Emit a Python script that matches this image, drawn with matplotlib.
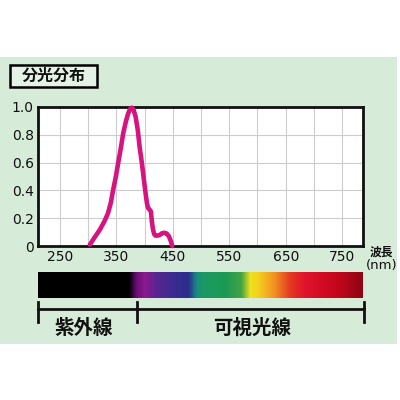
import numpy as np
import matplotlib
matplotlib.use("Agg")
import matplotlib.pyplot as plt
from matplotlib.colors import LinearSegmentedColormap
from matplotlib.patches import Rectangle

plt.rcParams['font.family'] = ['Noto Sans CJK JP', 'DejaVu Sans']

# data
wavelength = [303, 311, 321, 329, 335, 340, 344, 349, 353, 358, 362, 367, 371, 374, 377, 380, 384, 388,
              391, 395, 398, 401, 404, 406, 408, 411, 413, 415, 417, 419, 423, 427, 431, 435, 439, 443, 446, 449]
intensity = [0.01, 0.06, 0.12, 0.18, 0.235, 0.31, 0.40, 0.50, 0.595, 0.71, 0.81, 0.90, 0.955, 0.985, 0.995,
             0.985, 0.93, 0.83, 0.715, 0.60, 0.50, 0.40, 0.31, 0.275, 0.265, 0.25, 0.17, 0.115, 0.085, 0.075,
             0.075, 0.08, 0.092, 0.095, 0.09, 0.07, 0.04, 0.0]
x_ticks = [250, 350, 450, 550, 650, 750]
y_ticks = [0, 0.2, 0.4, 0.6, 0.8, 1.0]
y_labels = ["0", "0.2", "0.4", "0.6", "0.8", "1.0"]
spectrum_nm = [211, 372, 385, 400, 420, 450, 478, 492, 505, 545, 572, 588, 602, 630, 660, 685, 740, 787]
spectrum_colors = ["#000000", "#000000", "#6a0f75", "#8c1a8e", "#5a2592", "#3a2c90", "#2a2f8c",
                   "#1a8a82", "#1a9a62", "#1c9a54", "#45a445", "#ece31e", "#f4cf1e", "#f29422",
                   "#e23722", "#e0132c", "#c8061e", "#8e0612"]
xmin, xmax = 211, 787

W = H = 400
fig = plt.figure(figsize=(4, 4), dpi=100)
fig.patch.set_facecolor("white")

# background overlay in pixel coords
bg = fig.add_axes([0, 0, 1, 1], zorder=0)
bg.set_xlim(0, W)
bg.set_ylim(H, 0)
bg.axis("off")
bg.add_patch(Rectangle((0, 56.5), 397, 287, facecolor="#d6ebd8", edgecolor="none"))
bg.add_patch(Rectangle((10, 65), 87, 22, facecolor="#e4f2e6", edgecolor="black", linewidth=1.8))
bg.text(53.5, 76, "分光分布", ha="center", va="center", fontsize=11.5, fontweight="bold", color="#111111")
bg.text(381.5, 252, "波長", ha="center", va="center", fontsize=8.5, fontweight="bold", color="#111111")
bg.text(381.5, 266, "(nm)", ha="center", va="center", fontsize=9.5, color="#111111",
        family=["DejaVu Sans"])
# bracket
bg.plot([38, 364], [309, 309], color="#111111", lw=2)
for xx in (38, 137, 364):
    bg.plot([xx, xx], [302, 322], color="#111111", lw=2)
bg.text(84, 328, "紫外線", ha="center", va="center", fontsize=14, fontweight="bold", color="#111111")
bg.text(252, 328, "可視光線", ha="center", va="center", fontsize=14, fontweight="bold", color="#111111")

# main chart
ax = fig.add_axes([38 / W, 1 - 246 / H, (363 - 38) / W, (246 - 107) / H], zorder=2)
ax.set_facecolor("white")
ax.plot(wavelength, intensity, color="#d6137f", lw=3.3, solid_capstyle="round", solid_joinstyle="round",
        zorder=3, clip_on=False)
ax.set_xlim(xmin, xmax)
ax.set_ylim(0, 1.0)
ax.set_xticks(x_ticks)
ax.set_xticks(np.arange(250, 800, 50), minor=True)
ax.set_yticks(y_ticks)
ax.set_yticklabels(y_labels)
ax.grid(True, which="both", axis="x", color="#cccccc", lw=0.8)
ax.grid(True, which="major", axis="y", color="#cccccc", lw=0.8)
ax.tick_params(which="both", length=0, labelsize=10, pad=3, colors="#111111")
for lbl in ax.get_xticklabels() + ax.get_yticklabels():
    lbl.set_family(["DejaVu Sans"])
for s in ax.spines.values():
    s.set_linewidth(2)
    s.set_color("#111111")

# spectrum bar
sp = fig.add_axes([38 / W, 1 - 298 / H, (363 - 38) / W, 26 / H], zorder=2)
stops = [(n - xmin) / (xmax - xmin) for n in spectrum_nm]
cmap = LinearSegmentedColormap.from_list("spec", list(zip(stops, spectrum_colors)))
grad = np.linspace(0, 1, 600)[None, :]
sp.imshow(grad, aspect="auto", cmap=cmap, extent=[xmin, xmax, 0, 1])
sp.set_xlim(xmin, xmax)
sp.axis("off")

fig.savefig("out.png", dpi=100, facecolor="white")
